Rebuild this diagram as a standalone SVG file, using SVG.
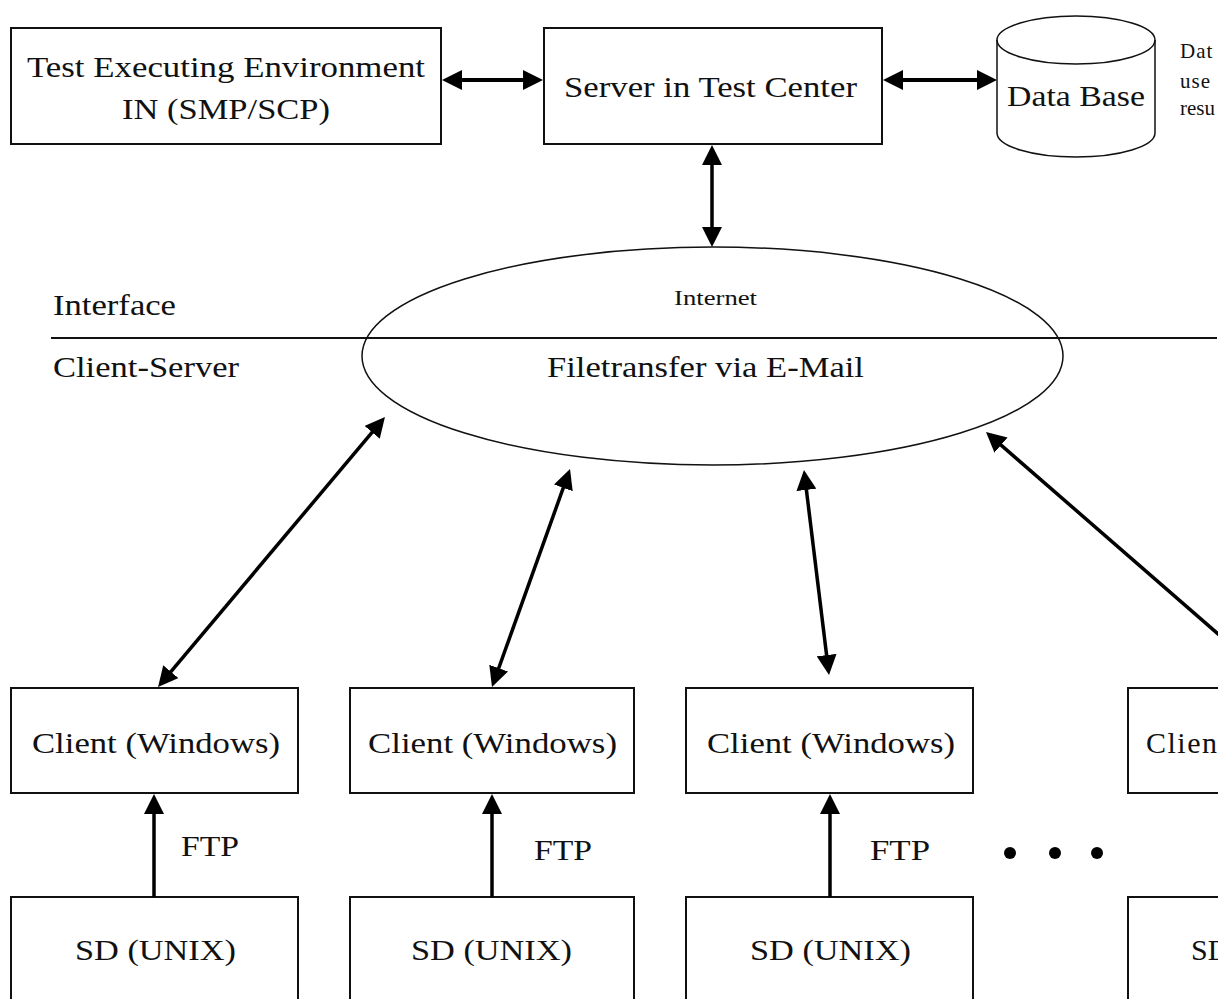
<svg xmlns="http://www.w3.org/2000/svg" width="1231" height="999" viewBox="0 0 1231 999">
  <defs>
    <marker id="head" viewBox="0 0 20 20" refX="14" refY="10" markerWidth="20" markerHeight="20" markerUnits="userSpaceOnUse" orient="auto-start-reverse">
      <path d="M0,0 L20,10 L0,20 z" fill="#000"/>
    </marker>
    <clipPath id="sheet">
      <rect x="0" y="0" width="1218" height="999"/>
    </clipPath>
  </defs>
  <style>
    .box { fill: #fff; stroke: #111; stroke-width: 2; }
    .thin { fill: none; stroke: #111; stroke-width: 1.5; }
    .rule { stroke: #111; stroke-width: 2; }
    .lbl { font-family: "Liberation Serif", "Times New Roman", serif; font-size: 30px; fill: #111; }
    .small { font-family: "Liberation Serif", "Times New Roman", serif; font-size: 20px; fill: #111; }
    .note { font-family: "Liberation Serif", "Times New Roman", serif; font-size: 21px; fill: #111; }
    .con { stroke: #000; stroke-width: 3.5; fill: none; }
    .con-top { stroke: #000; stroke-width: 4; fill: none; }
  </style>
  <rect width="1231" height="999" fill="#fff"/>

  <g clip-path="url(#sheet)">
    <!-- layer divider -->
    <g id="divider">
      <line class="rule" x1="51" y1="338" x2="1217" y2="338"/>
      <text class="lbl" x="53" y="315" textLength="123" lengthAdjust="spacingAndGlyphs">Interface</text>
      <text class="lbl" x="53" y="377" textLength="186" lengthAdjust="spacingAndGlyphs">Client-Server</text>
    </g>

    <g id="test-env">
      <rect class="box" x="11" y="28" width="430" height="116"/>
      <text class="lbl" x="27" y="77" textLength="398" lengthAdjust="spacingAndGlyphs">Test Executing Environment</text>
      <text class="lbl" x="122" y="119" textLength="208" lengthAdjust="spacingAndGlyphs">IN (SMP/SCP)</text>
    </g>

    <g id="server">
      <rect class="box" x="544" y="28" width="338" height="116"/>
      <text class="lbl" x="564" y="97" textLength="293" lengthAdjust="spacingAndGlyphs">Server in Test Center</text>
    </g>

    <g id="database">
      <path class="thin" d="M997,40 L997,133 A79,24 0 0 0 1155,133 L1155,40" fill="#fff"/>
      <ellipse class="thin" cx="1076" cy="40" rx="79" ry="24"/>
      <text class="lbl" x="1007" y="106" textLength="138" lengthAdjust="spacingAndGlyphs">Data Base</text>
    </g>

    <g id="db-note">
      <text class="note" x="1180" y="58" letter-spacing="1">Dat</text>
      <text class="note" x="1180" y="88" letter-spacing="1">use</text>
      <text class="note" x="1180" y="115">resu</text>
    </g>

    <g id="internet">
      <ellipse class="thin" cx="712.5" cy="356" rx="350.5" ry="109"/>
      <text class="small" x="674" y="305" textLength="83" lengthAdjust="spacingAndGlyphs">Internet</text>
      <text class="lbl" x="547" y="377" textLength="317" lengthAdjust="spacingAndGlyphs">Filetransfer via E-Mail</text>
    </g>

    <!-- Windows clients -->
    <g id="client-1">
      <rect class="box" x="11" y="688" width="287" height="105"/>
      <text class="lbl" x="32" y="753" textLength="248" lengthAdjust="spacingAndGlyphs">Client (Windows)</text>
    </g>
    <g id="client-2">
      <rect class="box" x="350" y="688" width="284" height="105"/>
      <text class="lbl" x="368" y="753" textLength="249" lengthAdjust="spacingAndGlyphs">Client (Windows)</text>
    </g>
    <g id="client-3">
      <rect class="box" x="686" y="688" width="287" height="105"/>
      <text class="lbl" x="707" y="753" textLength="248" lengthAdjust="spacingAndGlyphs">Client (Windows)</text>
    </g>
    <g id="client-4">
      <rect class="box" x="1128" y="688" width="287" height="105"/>
      <text class="lbl" x="1146" y="753" letter-spacing="1.5">Client</text>
    </g>

    <!-- UNIX switching devices -->
    <g id="sd-1">
      <rect class="box" x="11" y="897" width="287" height="200"/>
      <text class="lbl" x="75" y="960" textLength="161" lengthAdjust="spacingAndGlyphs">SD (UNIX)</text>
    </g>
    <g id="sd-2">
      <rect class="box" x="350" y="897" width="284" height="200"/>
      <text class="lbl" x="411" y="960" textLength="161" lengthAdjust="spacingAndGlyphs">SD (UNIX)</text>
    </g>
    <g id="sd-3">
      <rect class="box" x="686" y="897" width="287" height="200"/>
      <text class="lbl" x="750" y="960" textLength="161" lengthAdjust="spacingAndGlyphs">SD (UNIX)</text>
    </g>
    <g id="sd-4">
      <rect class="box" x="1128" y="897" width="287" height="200"/>
      <text class="lbl" x="1191" y="960">SD</text>
    </g>

    <g id="more">
      <circle cx="1010" cy="853" r="6" fill="#000"/>
      <circle cx="1055" cy="853" r="6" fill="#000"/>
      <circle cx="1097" cy="853" r="6" fill="#000"/>
    </g>

    <g id="connectors">
      <line class="con-top" x1="448" y1="80" x2="537" y2="80" marker-start="url(#head)" marker-end="url(#head)"/>
      <line class="con-top" x1="889" y1="80" x2="991" y2="80" marker-start="url(#head)" marker-end="url(#head)"/>
      <line class="con" x1="712" y1="151" x2="712" y2="241" marker-start="url(#head)" marker-end="url(#head)"/>

      <line class="con" x1="381.1" y1="421.6" x2="161.9" y2="682.4" marker-start="url(#head)" marker-end="url(#head)"/>
      <line class="con" x1="568.0" y1="474.7" x2="494.0" y2="681.3" marker-start="url(#head)" marker-end="url(#head)"/>
      <line class="con" x1="804.7" y1="476.0" x2="828.3" y2="669.0" marker-start="url(#head)" marker-end="url(#head)"/>
      <line class="con" x1="990.5" y1="435.9" x2="1240" y2="653" marker-start="url(#head)"/>

      <line class="con" x1="154" y1="897" x2="154" y2="800" marker-end="url(#head)"/>
      <line class="con" x1="492" y1="897" x2="492" y2="800" marker-end="url(#head)"/>
      <line class="con" x1="830" y1="897" x2="830" y2="800" marker-end="url(#head)"/>

      <text class="lbl" x="181" y="856" textLength="58" lengthAdjust="spacingAndGlyphs">FTP</text>
      <text class="lbl" x="534" y="860" textLength="58" lengthAdjust="spacingAndGlyphs">FTP</text>
      <text class="lbl" x="870" y="860" textLength="60" lengthAdjust="spacingAndGlyphs">FTP</text>
    </g>
  </g>
</svg>
